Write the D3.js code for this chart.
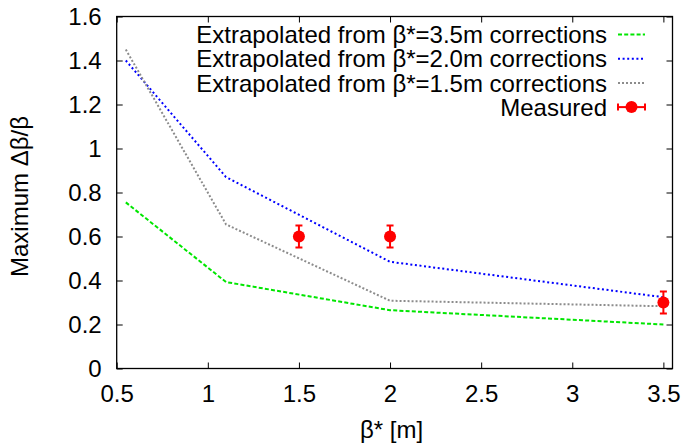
<!DOCTYPE html>
<html>
<head>
<meta charset="utf-8">
<script src="https://cdn.jsdelivr.net/npm/d3@7"></script>
<style>
  html, body { margin: 0; padding: 0; background: #fff; }
  svg { display: block; }
  text { font-family: "Liberation Sans", Arial, Helvetica, sans-serif; fill: #000; }
</style>
</head>
<body>
<svg id="chart" width="685" height="443"></svg>
<script>
// beta* values at which each extrapolation was evaluated [m]
const betaStar = [0.55, 1.1, 2.0, 3.5];

// Maximum beta-beating extrapolated from corrections computed at each beta*
const from35 = [0.755, 0.393, 0.265, 0.200];
const from20 = [1.400, 0.870, 0.485, 0.324];
const from15 = [1.450, 0.655, 0.308, 0.283];

// Measured maximum beta-beating with uncertainties
const measuredBeta = [1.5, 2.0, 3.5];
const measuredVal = [0.60, 0.60, 0.30];
const measuredErr = [0.05, 0.05, 0.05];

// Axis ticks
const xTicks = [0.5, 1, 1.5, 2, 2.5, 3, 3.5];
const yTicks = [0, 0.2, 0.4, 0.6, 0.8, 1, 1.2, 1.4, 1.6];

const seriesNames = [
  "Extrapolated from \u03b2*=3.5m corrections",
  "Extrapolated from \u03b2*=2.0m corrections",
  "Extrapolated from \u03b2*=1.5m corrections"
];
const measuredName = "Measured";

const series = [
  { name: seriesNames[0], values: from35, color: "#00e600", dash: "4,2.2" },
  { name: seriesNames[1], values: from20, color: "#0000ff", dash: "2,2.6" },
  { name: seriesNames[2], values: from15, color: "#8c8c8c", dash: "2,2" }
];

const svg = d3.select("#chart");
const plotL = 116.7, plotR = 672.5, plotT = 16.5, plotB = 368.5;
const fontSize = 24;

const x = d3.scaleLinear().domain([0.5, 3.55]).range([plotL, plotR]);
const y = d3.scaleLinear().domain([0, 1.6]).range([plotB, plotT]);

const fmt = d => String(+d.toFixed(2));

// Axes: inward ticks on all four sides, labels on bottom and left only
const axB = svg.append("g").attr("transform", `translate(0,${plotB})`)
  .call(d3.axisBottom(x).tickValues(xTicks).tickSize(-6).tickSizeOuter(0).tickPadding(16).tickFormat(fmt));
const axT = svg.append("g").attr("transform", `translate(0,${plotT})`)
  .call(d3.axisTop(x).tickValues(xTicks).tickSize(-6).tickSizeOuter(0).tickFormat(""));
const axL = svg.append("g").attr("transform", `translate(${plotL},0)`)
  .call(d3.axisLeft(y).tickValues(yTicks).tickSize(-6).tickSizeOuter(0).tickPadding(15).tickFormat(fmt));
const axR = svg.append("g").attr("transform", `translate(${plotR},0)`)
  .call(d3.axisRight(y).tickValues(yTicks).tickSize(-6).tickSizeOuter(0).tickFormat(""));

[axB, axT, axL, axR].forEach(g => {
  g.select(".domain").remove();
  g.selectAll(".tick line").attr("stroke", "#000").attr("stroke-width", 1);
  g.selectAll(".tick text").attr("font-size", fontSize)
    .attr("font-family", "Liberation Sans, Arial, sans-serif");
});

// Plot frame
svg.append("rect")
  .attr("x", plotL).attr("y", plotT)
  .attr("width", plotR - plotL).attr("height", plotB - plotT)
  .attr("fill", "none").attr("stroke", "#000").attr("stroke-width", 1.3);

// Axis titles
svg.append("text")
  .attr("x", (plotL + plotR) / 2 - 3).attr("y", 438)
  .attr("text-anchor", "middle").attr("font-size", fontSize)
  .text("\u03b2* [m]");
svg.append("text")
  .attr("transform", `translate(28,${(plotT + plotB) / 2 + 4}) rotate(-90)`)
  .attr("text-anchor", "middle").attr("font-size", fontSize)
  .text("Maximum \u0394\u03b2/\u03b2");

// Extrapolation curves
const line = d3.line().x((d, i) => x(betaStar[i])).y(d => y(d));
const plot = svg.append("g");
series.forEach(s => {
  plot.append("path")
    .datum(s.values)
    .attr("d", line)
    .attr("fill", "none")
    .attr("stroke", s.color)
    .attr("stroke-width", 2)
    .attr("stroke-dasharray", s.dash);
});

// Measured points with vertical error bars
const red = "#ff0000";
const capW = 3.5;
const meas = plot.selectAll("g.meas")
  .data(measuredBeta.map((b, i) => ({ b, v: measuredVal[i], e: measuredErr[i] })))
  .join("g").attr("class", "meas");
meas.append("line")
  .attr("x1", d => x(d.b)).attr("x2", d => x(d.b))
  .attr("y1", d => y(d.v - d.e)).attr("y2", d => y(d.v + d.e))
  .attr("stroke", red).attr("stroke-width", 2);
meas.append("line")
  .attr("x1", d => x(d.b) - capW).attr("x2", d => x(d.b) + capW)
  .attr("y1", d => y(d.v + d.e)).attr("y2", d => y(d.v + d.e))
  .attr("stroke", red).attr("stroke-width", 2);
meas.append("line")
  .attr("x1", d => x(d.b) - capW).attr("x2", d => x(d.b) + capW)
  .attr("y1", d => y(d.v - d.e)).attr("y2", d => y(d.v - d.e))
  .attr("stroke", red).attr("stroke-width", 2);
meas.append("circle")
  .attr("cx", d => x(d.b)).attr("cy", d => y(d.v)).attr("r", 6)
  .attr("fill", red);

// Legend
const legTextX = 607, sampleX1 = 618, sampleX2 = 645;
const rowY = [34.5, 58.7, 82.9, 107.1];
const legend = svg.append("g");
series.forEach((s, i) => {
  legend.append("text")
    .attr("x", legTextX).attr("y", rowY[i]).attr("dy", "0.36em")
    .attr("text-anchor", "end").attr("font-size", fontSize)
    .text(s.name);
  legend.append("line")
    .attr("x1", sampleX1).attr("x2", sampleX2)
    .attr("y1", rowY[i]).attr("y2", rowY[i])
    .attr("stroke", s.color).attr("stroke-width", 2)
    .attr("stroke-dasharray", s.dash);
});
const mRow = rowY[3];
legend.append("text")
  .attr("x", legTextX).attr("y", mRow).attr("dy", "0.36em")
  .attr("text-anchor", "end").attr("font-size", fontSize)
  .text(measuredName);
legend.append("line")
  .attr("x1", sampleX1).attr("x2", sampleX2).attr("y1", mRow).attr("y2", mRow)
  .attr("stroke", red).attr("stroke-width", 2);
[sampleX1, sampleX2].forEach(cx => {
  legend.append("line")
    .attr("x1", cx).attr("x2", cx).attr("y1", mRow - capW).attr("y2", mRow + capW)
    .attr("stroke", red).attr("stroke-width", 2);
});
legend.append("circle")
  .attr("cx", (sampleX1 + sampleX2) / 2).attr("cy", mRow).attr("r", 6)
  .attr("fill", red);
</script>
</body>
</html>
